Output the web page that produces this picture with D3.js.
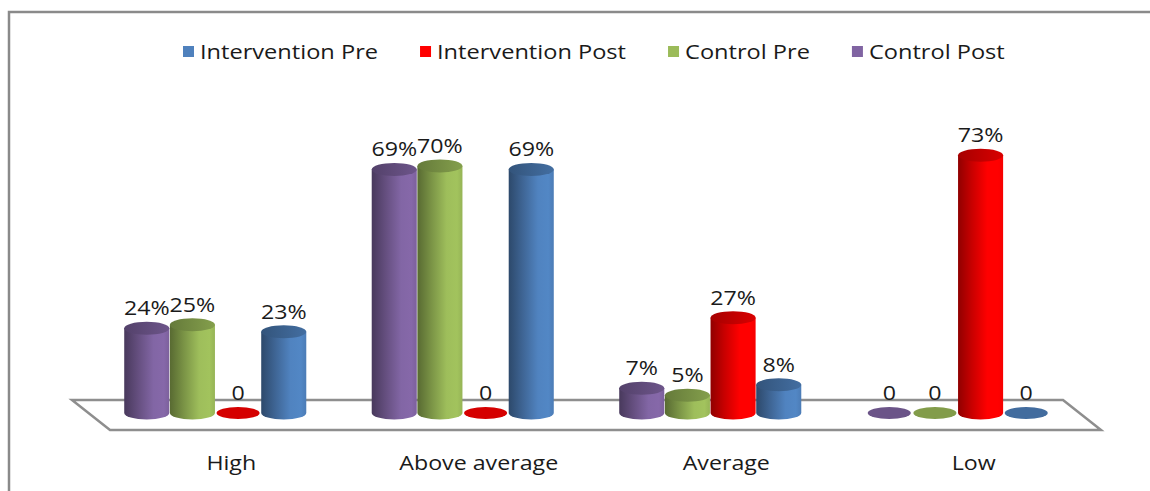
<!DOCTYPE html>
<html>
<head>
<meta charset="utf-8">
<script src="https://cdn.jsdelivr.net/npm/d3@7"></script>
<style>
  html, body { margin: 0; padding: 0; background: #fff; }
  svg { display: block; }
  text { font-family: "Open Sans", "Noto Sans", sans-serif; fill: #1a1a1a; }
</style>
</head>
<body>
<svg id="chart" width="1150" height="491"></svg>
<script>
// Share of respondents per level, by study arm and time point (percent)
const categories = ["High", "Above average", "Average", "Low"];
const seriesOrder = ["Control Post", "Control Pre", "Intervention Post", "Intervention Pre"];
const legendOrder = ["Intervention Pre", "Intervention Post", "Control Pre", "Control Post"];
const interventionPre  = [23, 69, 8, 0];
const interventionPost = [0, 0, 27, 73];
const controlPre       = [25, 70, 5, 0];
const controlPost      = [24, 69, 7, 0];
const seriesColors = {
  "Intervention Pre": "#4f81bd",
  "Intervention Post": "#ff0000",
  "Control Pre": "#9bbb59",
  "Control Post": "#8064a2"
};
const seriesValues = {
  "Intervention Pre": interventionPre,
  "Intervention Post": interventionPost,
  "Control Pre": controlPre,
  "Control Post": controlPost
};

const svg = d3.select("#chart");
const defs = svg.append("defs");
const stretch = 1.16; // text is set slightly wide

// Frame of the chart area
svg.append("path")
  .attr("d", "M9,491 L9,12 L1150,12")
  .attr("fill", "none").attr("stroke", "#8a8a8a").attr("stroke-width", 2.5);

// Scales
const x = d3.scaleBand().domain(categories).range([91.5, 1081.5])
  .paddingInner(0.262).paddingOuter(0.131);
const xs = d3.scaleBand().domain(seriesOrder).range([0, x.bandwidth()]).padding(0);
const y = d3.scaleLinear().domain([0, 100]).range([413, 60]);

// Floor of the 3D plot
const floorBackY = 400, floorFrontY = 430, depthShift = 38;
const floorL = 72, floorR = 1063;
svg.append("path")
  .attr("d", `M${floorL},${floorBackY} L${floorR},${floorBackY} L${floorR + depthShift},${floorFrontY} L${floorL + depthShift},${floorFrontY} Z`)
  .attr("fill", "#fff").attr("stroke", "#8e8e8e").attr("stroke-width", 2.5)
  .attr("stroke-linejoin", "miter");

// Gradients for cylinder bodies and tops
seriesOrder.forEach((s, i) => {
  const c = d3.color(seriesColors[s]);
  const body = defs.append("linearGradient").attr("id", "body" + i)
    .attr("x1", "0%").attr("x2", "100%").attr("y1", "0%").attr("y2", "0%");
  [[0, c.darker(1.6)], [0.3, c.darker(0.7)], [0.65, c.brighter(0.05)], [0.88, c.brighter(0.12)], [1, c.darker(0.1)]]
    .forEach(([o, col]) => body.append("stop").attr("offset", o).attr("stop-color", col));
  const top = defs.append("linearGradient").attr("id", "top" + i)
    .attr("x1", "0%").attr("x2", "100%").attr("y1", "0%").attr("y2", "0%");
  [[0, c.darker(1.2)], [1, c.darker(0.45)]]
    .forEach(([o, col]) => top.append("stop").attr("offset", o).attr("stop-color", col));
});

const rx = xs.bandwidth() / 2 - 0.3, ry = 6.5;
const base = y(0);

const marks = [];
categories.forEach((cat, ci) => {
  seriesOrder.forEach((s, si) => {
    marks.push({ cat, s, si, v: seriesValues[s][ci], cx: x(cat) + xs(s) + xs.bandwidth() / 2 });
  });
});

const g = svg.append("g");
marks.forEach(m => {
  const top = y(m.v);
  if (m.v > 0) {
    g.append("path")
      .attr("d", `M${m.cx - rx},${top} L${m.cx - rx},${base} A${rx},${ry} 0 0 0 ${m.cx + rx},${base} L${m.cx + rx},${top} Z`)
      .attr("fill", `url(#body${m.si})`);
    g.append("ellipse")
      .attr("cx", m.cx).attr("cy", top).attr("rx", rx).attr("ry", ry)
      .attr("fill", `url(#top${m.si})`);
  } else {
    g.append("ellipse")
      .attr("cx", m.cx).attr("cy", base).attr("rx", rx - 1).attr("ry", ry - 0.5)
      .attr("fill", d3.color(seriesColors[m.s]).darker(0.5));
  }
});

// Value labels
svg.append("g").selectAll("text").data(marks).join("text")
  .attr("transform", d => `translate(${d.cx},${y(d.v) - 13}) scale(${stretch},1)`)
  .attr("text-anchor", "middle")
  .attr("font-size", 20)
  .text(d => d.v === 0 ? "0" : d.v + "%");

// Category labels along the front of the floor
svg.append("g").selectAll("text").data(categories).join("text")
  .attr("transform", d => `translate(${x(d) + x.bandwidth() / 2 + 16},470) scale(${stretch},1)`)
  .attr("text-anchor", "middle")
  .attr("font-size", 20)
  .text(d => d);

// Legend
const legend = svg.append("g");
let lx = 183;
legendOrder.forEach(s => {
  legend.append("rect").attr("x", lx).attr("y", 46).attr("width", 11).attr("height", 11)
    .attr("fill", seriesColors[s]);
  const t = legend.append("text")
    .attr("transform", `translate(${lx + 17},59) scale(${stretch + 0.02},1)`)
    .attr("font-size", 20).text(s);
  lx += 17 + t.node().getComputedTextLength() * (stretch + 0.02) + 42;
});
</script>
</body>
</html>
